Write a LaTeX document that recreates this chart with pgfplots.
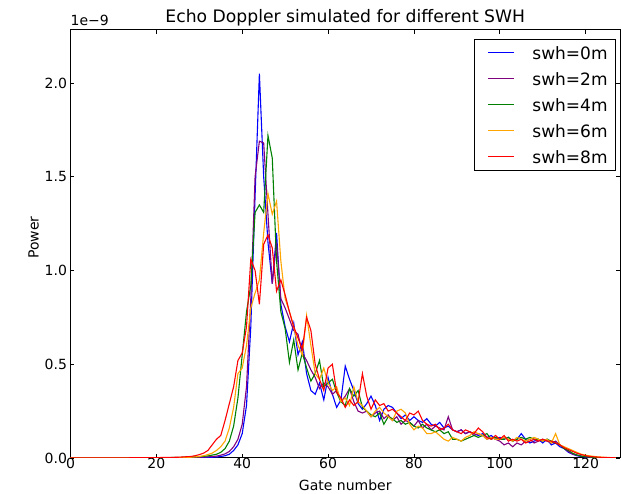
\documentclass[border=0pt]{standalone}
\usepackage{fontspec}
\setmainfont{DejaVu Sans}
\usepackage{pgfplots}
\pgfplotsset{compat=1.18}
\definecolor{mplpurple}{HTML}{800080}
\definecolor{mplgreen}{HTML}{008000}
\definecolor{mplorange}{HTML}{FFA500}
\begin{document}
\begin{tikzpicture}
\begin{axis}[
  scale only axis, width=549.5pt, height=428pt,
  xmin=0, xmax=128, ymin=0, ymax=2.283,
  xtick={0,20,40,60,80,100,120},
  ytick={0,0.5,1,1.5,2},
  yticklabel style={/pgf/number format/.cd,fixed,fixed zerofill,precision=1},
  /pgf/number format/assume math mode=true,
  ticklabel style={font=\fontsize{14}{16}\selectfont},
  xticklabel style={yshift=3pt},
  tick align=inside, major tick length=4pt,
  xtick pos=both, ytick pos=both,
  tick style={black, line width=0.8pt},
  axis line style={black, line width=1pt},
  title={Echo Doppler simulated for different SWH},
  title style={font=\fontsize{17.2}{19}\selectfont, at={(axis description cs:0.5,1)}, anchor=base, yshift=1pt},
  xlabel={Gate number},
  ylabel={Power},
  xlabel style={font=\fontsize{14}{16}\selectfont, at={(axis description cs:0.5,-0.063)}, anchor=center},
  ylabel style={font=\fontsize{14}{16}\selectfont, at={(axis description cs:-0.0673,0.515)}, anchor=center},
  legend style={at={(rel axis cs:1,1)}, anchor=north east, xshift=-4pt, yshift=-9pt,
    draw=black, line width=0.8pt, inner xsep=8pt, inner ysep=7pt,
    font=\fontsize{17}{19}\selectfont,
    nodes={inner sep=0pt, text height=13pt, text depth=0pt},
    row sep=13pt},
  legend cell align=left,
  legend image code/.code={\path (0pt,0pt); \draw[#1, line width=1pt] (5pt,0pt) -- (31pt,0pt);},
  /tikz/every odd column/.append style={column sep=18pt},
  clip=true,
]
\addplot[blue, line width=1.1pt] coordinates {
(0,0) (10,0) (20,0) (25,0.001) (28,0.001) (30,0.002) (32,0.003) (34,0.005) (35,0.008) (36,0.012) (37,0.02) (38,0.04) (39,0.07)
(40,0.13) (41,0.28) (42,0.7) (43,1.4) (44,2.05) (45,1.5) (46,1.15) (47,0.93) (48,1.2) (49,0.82)
(50,0.7) (51,0.62) (52,0.72) (53,0.55) (54,0.62) (55,0.45) (56,0.36) (57,0.34) (58,0.4) (59,0.31)
(60,0.43) (61,0.34) (62,0.27) (63,0.31) (64,0.49) (65,0.42) (66,0.36) (67,0.29) (68,0.26) (69,0.29)
(70,0.33) (71,0.28) (72,0.2) (73,0.26) (74,0.28) (75,0.27) (76,0.24) (77,0.21) (78,0.23) (79,0.2)
(80,0.22) (81,0.2) (82,0.19) (83,0.21) (84,0.18) (85,0.17) (86,0.19) (87,0.16) (88,0.17) (89,0.15)
(90,0.14) (91,0.15) (92,0.13) (93,0.14) (94,0.13) (95,0.12) (96,0.13) (97,0.11) (98,0.12) (99,0.1)
(100,0.11) (101,0.1) (102,0.11) (103,0.09) (104,0.1) (105,0.13) (106,0.1) (107,0.08) (108,0.09) (109,0.1)
(110,0.08) (111,0.1) (112,0.07) (113,0.08) (114,0.06) (115,0.05) (116,0.03) (117,0.02) (118,0.012) (119,0.008)
(120,0.005) (122,0.002) (124,0.001) (127,0)
};
\addlegendentry{swh=0m}
\addplot[mplpurple, line width=1.1pt] coordinates {
(0,0) (10,0) (20,0.001) (25,0.002) (28,0.003) (30,0.004) (32,0.006) (34,0.01) (35,0.015) (36,0.022) (37,0.035) (38,0.06) (39,0.1)
(40,0.18) (41,0.38) (42,0.85) (43,1.5) (44,1.69) (45,1.68) (46,1.3) (47,0.93) (48,1.15) (49,0.85)
(50,0.8) (51,0.74) (52,0.68) (53,0.66) (54,0.56) (55,0.52) (56,0.47) (57,0.43) (58,0.37) (59,0.4)
(60,0.38) (61,0.34) (62,0.36) (63,0.3) (64,0.33) (65,0.37) (66,0.3) (67,0.25) (68,0.24) (69,0.25)
(70,0.22) (71,0.24) (72,0.25) (73,0.21) (74,0.23) (75,0.2) (76,0.22) (77,0.18) (78,0.2) (79,0.19)
(80,0.17) (81,0.2) (82,0.16) (83,0.18) (84,0.15) (85,0.17) (86,0.16) (87,0.15) (88,0.22) (89,0.15)
(90,0.14) (91,0.15) (92,0.13) (93,0.14) (94,0.12) (95,0.13) (96,0.12) (97,0.1) (98,0.11) (99,0.1)
(100,0.09) (101,0.07) (102,0.08) (103,0.06) (104,0.08) (105,0.07) (106,0.09) (107,0.1) (108,0.08) (109,0.09)
(110,0.1) (111,0.09) (112,0.08) (113,0.09) (114,0.07) (115,0.05) (116,0.035) (117,0.02) (118,0.015) (119,0.01)
(120,0.006) (122,0.003) (124,0.001) (127,0)
};
\addlegendentry{swh=2m}
\addplot[mplgreen, line width=1.1pt] coordinates {
(0,0) (10,0) (20,0.001) (25,0.003) (28,0.005) (30,0.007) (32,0.011) (34,0.02) (35,0.03) (36,0.05) (37,0.09) (38,0.17) (39,0.32)
(40,0.55) (41,0.78) (42,0.92) (43,1.31) (44,1.35) (45,1.31) (46,1.72) (47,1.6) (48,1.05) (49,0.78)
(50,0.69) (51,0.51) (52,0.63) (53,0.47) (54,0.56) (55,0.48) (56,0.41) (57,0.45) (58,0.52) (59,0.38)
(60,0.4) (61,0.42) (62,0.35) (63,0.3) (64,0.28) (65,0.37) (66,0.33) (67,0.36) (68,0.27) (69,0.25)
(70,0.23) (71,0.22) (72,0.24) (73,0.18) (74,0.22) (75,0.21) (76,0.19) (77,0.2) (78,0.18) (79,0.19)
(80,0.17) (81,0.16) (82,0.18) (83,0.16) (84,0.15) (85,0.14) (86,0.15) (87,0.13) (88,0.14) (89,0.1)
(90,0.1) (91,0.09) (92,0.1) (93,0.11) (94,0.12) (95,0.11) (96,0.12) (97,0.13) (98,0.1) (99,0.11)
(100,0.1) (101,0.1) (102,0.11) (103,0.09) (104,0.1) (105,0.11) (106,0.1) (107,0.11) (108,0.1) (109,0.1)
(110,0.09) (111,0.1) (112,0.09) (113,0.08) (114,0.07) (115,0.05) (116,0.04) (117,0.025) (118,0.016) (119,0.01)
(120,0.007) (122,0.003) (124,0.001) (127,0)
};
\addlegendentry{swh=4m}
\addplot[mplorange, line width=1.1pt] coordinates {
(0,0) (10,0) (20,0.001) (25,0.002) (28,0.004) (30,0.008) (31,0.012) (32,0.018) (33,0.026) (34,0.04) (35,0.06) (36,0.09) (37,0.16) (38,0.27) (39,0.45)
(40,0.48) (41,0.6) (42,0.8) (43,0.88) (44,0.95) (45,1.2) (46,1.41) (47,1.3) (48,1.37) (49,1.05)
(50,0.85) (51,0.78) (52,0.7) (53,0.6) (54,0.55) (55,0.76) (56,0.6) (57,0.45) (58,0.42) (59,0.48)
(60,0.4) (61,0.36) (62,0.38) (63,0.3) (64,0.32) (65,0.28) (66,0.38) (67,0.3) (68,0.28) (69,0.25)
(70,0.22) (71,0.25) (72,0.27) (73,0.24) (74,0.22) (75,0.2) (76,0.25) (77,0.26) (78,0.24) (79,0.18)
(80,0.15) (81,0.17) (82,0.16) (83,0.13) (84,0.13) (85,0.14) (86,0.12) (87,0.1) (88,0.09) (89,0.11)
(90,0.1) (91,0.09) (92,0.11) (93,0.12) (94,0.14) (95,0.13) (96,0.12) (97,0.1) (98,0.11) (99,0.1)
(100,0.1) (101,0.11) (102,0.1) (103,0.09) (104,0.11) (105,0.1) (106,0.09) (107,0.1) (108,0.11) (109,0.1)
(110,0.09) (111,0.1) (112,0.08) (113,0.13) (114,0.07) (115,0.06) (116,0.05) (117,0.04) (118,0.03) (119,0.02)
(120,0.015) (122,0.008) (124,0.004) (127,0.001)
};
\addlegendentry{swh=6m}
\addplot[red, line width=1.1pt] coordinates {
(0,0) (10,0.0005) (20,0.002) (25,0.004) (28,0.008) (29,0.012) (30,0.018) (31,0.026) (32,0.04) (33,0.07) (34,0.1) (35,0.12) (36,0.2) (37,0.29) (38,0.38) (39,0.52)
(40,0.56) (41,0.7) (42,1.06) (43,1.0) (44,0.82) (45,1.14) (46,1.19) (47,1.12) (48,0.89) (49,0.95)
(50,0.87) (51,0.78) (52,0.7) (53,0.64) (54,0.58) (55,0.75) (56,0.68) (57,0.5) (58,0.42) (59,0.36)
(60,0.48) (61,0.5) (62,0.35) (63,0.32) (64,0.27) (65,0.31) (66,0.28) (67,0.3) (68,0.45) (69,0.33)
(70,0.26) (71,0.31) (72,0.28) (73,0.29) (74,0.25) (75,0.26) (76,0.24) (77,0.22) (78,0.2) (79,0.24)
(80,0.23) (81,0.25) (82,0.2) (83,0.18) (84,0.17) (85,0.18) (86,0.15) (87,0.16) (88,0.18) (89,0.15)
(90,0.14) (91,0.13) (92,0.15) (93,0.14) (94,0.13) (95,0.16) (96,0.14) (97,0.11) (98,0.1) (99,0.12)
(100,0.1) (101,0.12) (102,0.09) (103,0.1) (104,0.09) (105,0.1) (106,0.08) (107,0.09) (108,0.1) (109,0.09)
(110,0.1) (111,0.09) (112,0.09) (113,0.08) (114,0.07) (115,0.055) (116,0.045) (117,0.035) (118,0.025) (119,0.018)
(120,0.012) (121,0.008) (122,0.006) (124,0.003) (127,0.001)
};
\addlegendentry{swh=8m}
\end{axis}
\node[anchor=base west, font=\fontsize{14}{16}\selectfont, inner sep=0pt] at ([yshift=4pt]current axis.north west) {1e−9};
\pgfresetboundingbox
\path[use as bounding box] ([xshift=-70.5pt,yshift=-36pt]current axis.south west) rectangle ([xshift=1pt,yshift=30pt]current axis.north east);
\end{tikzpicture}
\end{document}
